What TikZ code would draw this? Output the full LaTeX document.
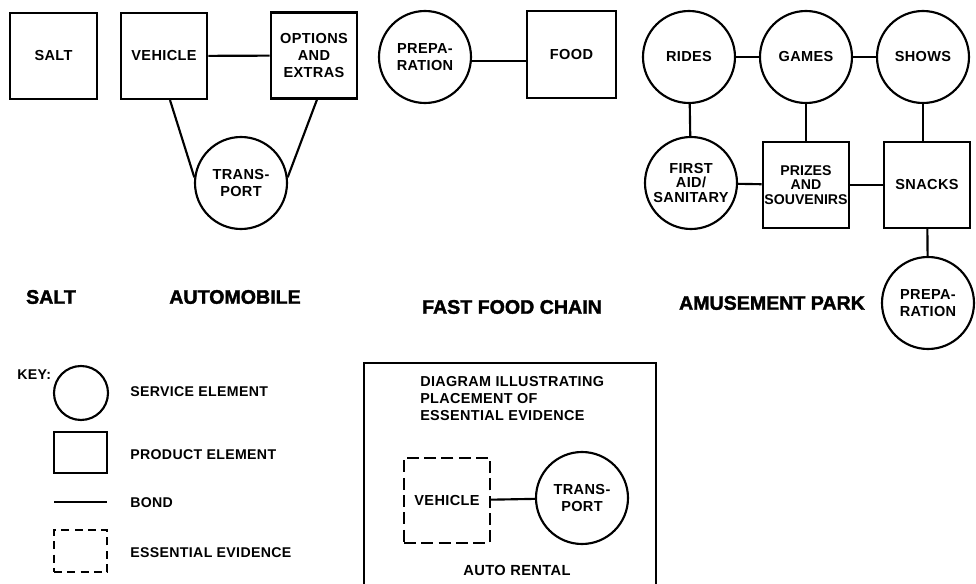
\documentclass[tikz,border=0pt]{standalone}
\usepackage{fontspec}
\setmainfont{Liberation Sans}
\newfontfamily\nodefont[LetterSpace=2.5]{Liberation Sans Bold}
\newfontfamily\tightfont{Liberation Sans Bold}
\newfontfamily\heavyfont[FakeBold=1.8]{Liberation Sans Bold}
\begin{document}
\begin{tikzpicture}[x=0.75pt,y=-0.75pt,
  base/.style={draw=black,line width=1.6pt,inner sep=0pt,align=center,
    font=\nodefont\fontsize{10.9}{12.4}\selectfont},
  svc/.style={base,circle,minimum size=69pt},
  prod/.style={base,rectangle,minimum width=65pt,minimum height=64.5pt},
  bond/.style={line width=1.6pt},
  caption/.style={font=\heavyfont\fontsize{14.7}{16}\selectfont,inner sep=0pt},
  keytext/.style={font=\nodefont\fontsize{10.6}{12}\selectfont,anchor=west,inner sep=0pt},
  evid/.style={draw=black,line width=1.6pt,dash pattern=on 9pt off 4pt}
]
\useasboundingbox (0,0) rectangle (976,584);
% --- salt
\node[prod] (salt) at (53.5,56) {SALT};
% --- automobile
\node[prod] (veh) at (164,56) {VEHICLE};
\node[prod,font=\nodefont\fontsize{10.9}{12.8}\selectfont] (opt) at (314,55.5) {OPTIONS\\AND\\EXTRAS};
\node[svc] (trans) at (241,183) {TRANS-\\PORT};
\draw[bond] (veh) -- (opt);
\draw[bond] ([xshift=4.5pt]veh.south) -- (trans.173);
\draw[bond] ([xshift=2.25pt]opt.south) -- (trans.7);
% --- fast food
\node[svc] (prep) at (425,57) {PREPA-\\RATION};
\node[prod,minimum width=66.5pt,minimum height=65pt] (food) at (571.5,54.5) {FOOD};
\draw[bond] (prep.-5) -- (prep.-5 -| food.west);
% --- amusement park
\node[svc] (rides) at (689,57) {RIDES};
\node[svc] (games) at (806,57) {GAMES};
\node[svc] (shows) at (923,57) {SHOWS};
\node[svc,font=\nodefont\fontsize{10.9}{10.8}\selectfont] (aid) at (691,183) {FIRST\\AID/\\SANITARY};
\node[prod,font=\tightfont\fontsize{10.6}{10.8}\selectfont] (prizes) at (806,185) {PRIZES\\AND\\SOUVENIRS};
\node[prod] (snacks) at (927,185) {SNACKS};
\node[svc] (prep2) at (928,303) {PREPA-\\RATION};
\draw[bond] (rides) -- (games);
\draw[bond] (games) -- (shows);
\draw[bond] (rides) -- (aid);
\draw[bond] (games) -- (prizes);
\draw[bond] (shows.south) -- (shows.south |- snacks.north);
\draw[bond] (aid) -- (prizes);
\draw[bond] (prizes) -- (snacks);
\draw[bond] (snacks) -- (prep2);
% --- captions
\node[caption] (cSalt) at (51,297) {SALT};
\node[caption] (cAuto) at (235,297) {AUTOMOBILE};
\node[caption] (cFast) at (512,307) {FAST FOOD CHAIN};
\node[caption] (cPark) at (772,303) {AMUSEMENT PARK};
% --- key
\node[keytext] (keyl) at (17,375) {KEY:};
\node[base,circle,minimum size=40.5pt] (ksvc) at (81,393) {};
\node[keytext] (tsvc) at (130,392) {SERVICE ELEMENT};
\node[base,minimum width=40pt,minimum height=31pt] (kprod) at (80.5,452.5) {};
\node[keytext] (tprod) at (130,455) {PRODUCT ELEMENT};
\coordinate (kb1) at (54,502);
\coordinate (kb2) at (107,502);
\draw[bond] (kb1) -- (kb2);
\node[keytext] (tbond) at (130,503) {BOND};
\node[draw=black,line width=1.4pt,dash pattern=on 6pt off 4pt,inner sep=0pt,minimum width=40pt,minimum height=31.5pt] (kev) at (80.5,551) {};
\node[keytext] (tev) at (130,553) {ESSENTIAL EVIDENCE};
% --- auto rental panel
\coordinate (p1) at (364,363);
\coordinate (p2) at (656,600);
\draw[line width=1.6pt] (p1) rectangle (p2);
\node[anchor=north west,align=left,inner sep=0pt,font=\nodefont\fontsize{10.8}{12.75}\selectfont] (title) at (420,376) {DIAGRAM ILLUSTRATING\\PLACEMENT OF\\ESSENTIAL EVIDENCE};
\node[base,rectangle,evid,minimum width=64.5pt,minimum height=64pt] (veh2) at (447,500.5) {VEHICLE};
\node[svc] (trans2) at (582,498) {TRANS-\\PORT};
\draw[bond] (veh2) -- (trans2);
\node[font=\nodefont\fontsize{11}{12}\selectfont,inner sep=0pt] (rental) at (517,570) {AUTO RENTAL};
\end{tikzpicture}
\end{document}
